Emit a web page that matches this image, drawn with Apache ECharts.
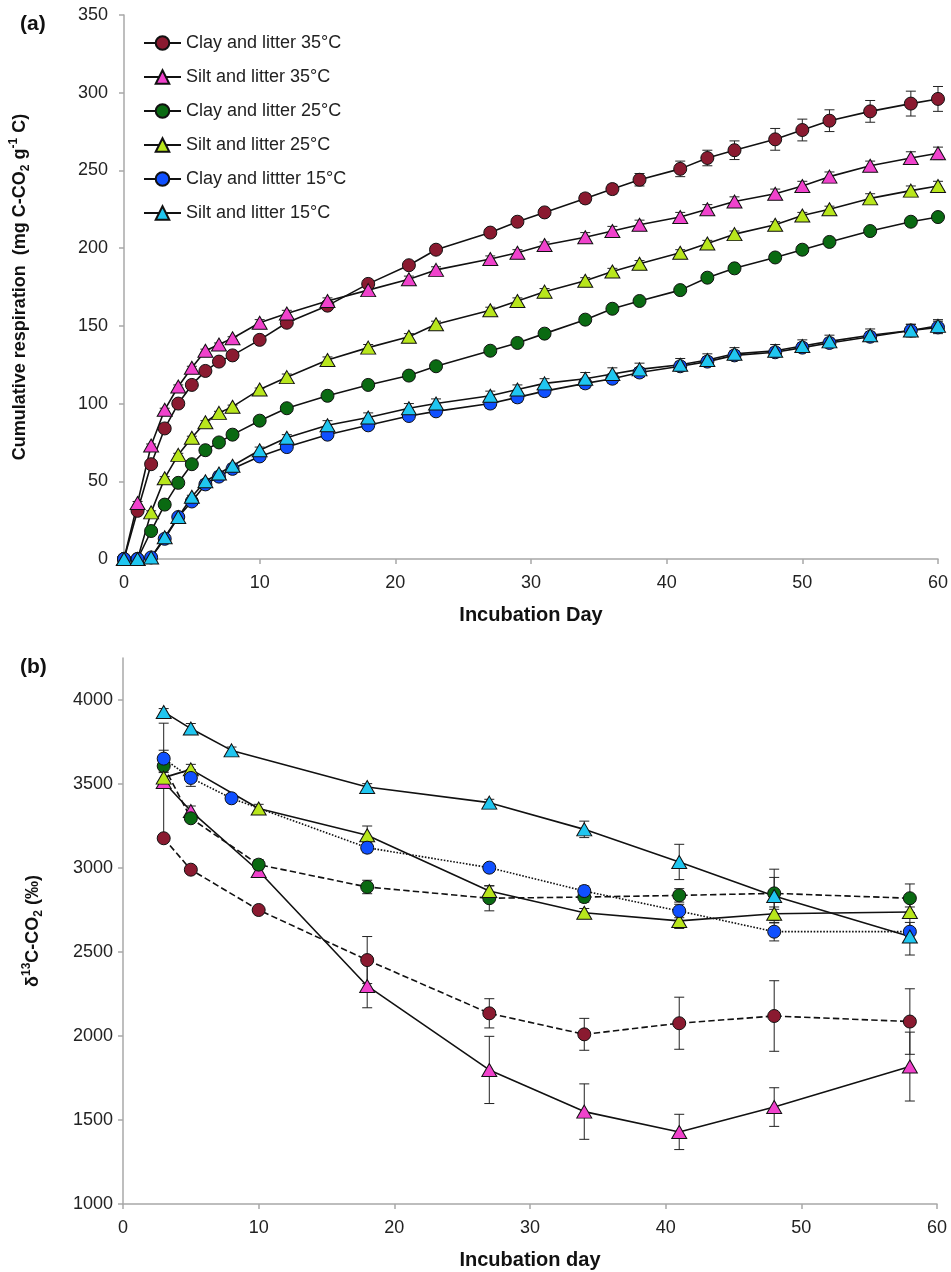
<!DOCTYPE html>
<html><head><meta charset="utf-8">
<script src="https://cdn.jsdelivr.net/npm/echarts/dist/echarts.min.js"></script>
<style>html,body{margin:0;padding:0;background:#fff}#c{width:951px;height:1272px}</style>
</head><body><div id="c"></div>
<script>
// ---------- Panel (a): cumulative respiration ----------
const daysA = [0,1,2,3,4,5,6,7,8,10,12,15,18,21,23,27,29,31,34,36,38,41,43,45,48,50,52,55,58,60];
const clay35A = [0,31,61,84,100,112,121,127,131,141,152,163,177,189,199,210,217,223,232,238,244,251,258,263,270,276,282,288,293,296];
const silt35A = [0,36,73,96,111,123,134,138,142,152,158,166,173,180,186,193,197,202,207,211,215,220,225,230,235,240,246,253,258,261];
const clay25A = [0,0,18,35,49,61,70,75,80,89,97,105,112,118,124,134,139,145,154,161,166,173,181,187,194,199,204,211,217,220];
const silt25A = [0,0,30,52,67,78,88,94,98,109,117,128,136,143,151,160,166,172,179,185,190,197,203,209,215,221,225,232,237,240];
const clay15A = [0,0,1,13,27,37,48,53,58,66,72,80,86,92,95,100,104,108,113,116,120,124,127,131,133,136,139,143,147,149];
const silt15A = [0,0,1,14,27,40,50,55,60,70,78,86,91,97,100,105,109,113,116,119,122,125,128,132,134,137,140,144,147,150];
const clay35AErr = [0,1,1,1,1,1,1,1,1,2,2,2,2,2,2,2,2,2,3,3,4,5,5,6,7,7,7,7,8,8];
const silt35AErr = [0,1,1,1,1,1,1,1,1,2,2,2,2,2,2,2,2,2,3,3,3,3,3,3,3,3,3,3,4,4];
const clay25AErr = [0,0,1,1,1,1,1,1,1,1,1,1,1,1,1,1,1,1,1,1,1,1,1,1,2,2,2,2,2,2];
const silt25AErr = [0,0,1,1,1,1,1,1,1,1,2,2,2,2,2,2,2,2,2,2,2,2,2,2,2,2,2,3,3,3];
const clay15AErr = [0,0,1,1,1,1,1,1,1,2,2,2,2,2,2,3,3,3,3,3,3,3,3,3,3,3,3,3,4,4];
const silt15AErr = [0,0,1,1,1,1,1,1,1,2,2,3,3,3,3,3,3,3,4,4,4,4,4,4,4,4,4,4,4,4];
const yTicksA = [0,50,100,150,200,250,300,350];

// ---------- Panel (b): delta13C-CO2 ----------
const daysB = [3,5,10,18,27,34,41,48,58];
const daysB15 = [3,5,8,18,27,34,41,48,58];
const clay35B = [3177,2990,2750,2452,2135,2010,2076,2119,2086];
const silt35B = [3512,3339,2982,2298,1798,1550,1429,1577,1818];
const clay25B = [3607,3296,3020,2887,2820,2827,2837,2849,2820];
const silt25B = [3538,3587,3354,3195,2863,2734,2685,2728,2738];
const clay15B = [3651,3536,3415,3121,3002,2863,2744,2621,2621];
const silt15B = [3929,3830,3700,3482,3389,3230,3036,2833,2592];
const clay35BErr = [20,20,20,140,87,95,155,210,195];
const silt35BErr = [350,30,20,130,200,165,105,115,205];
const clay25BErr = [30,20,30,40,75,30,40,95,85];
const silt25BErr = [30,30,25,55,30,25,45,40,30];
const clay15BErr = [50,50,25,30,25,30,40,55,55];
const silt15BErr = [20,30,20,20,20,49,105,160,110];
const yTicksB = [1000,1500,2000,2500,3000,3500,4000];

const names = ['Clay and litter 35°C','Silt and litter 35°C','Clay and litter 25°C','Silt and litter 25°C','Clay and littter 15°C','Silt and litter 15°C'];
const colors = ['#8a1a30','#f042cc','#0a6a12','#b8e61c','#1050ff','#20c6f0'];
const symbols = ['circle','triangle','circle','triangle','circle','triangle'];
const lineTypesB = ['dashed','solid','dashed','solid','dotted','solid'];

const FONT = "'Liberation Sans', Arial, sans-serif";

function errSeries(gi, days, vals, errs) {
  return {
    type: 'custom', xAxisIndex: gi, yAxisIndex: gi, z: 1, silent: true,
    data: days.map((d, i) => [d, vals[i], errs[i]]),
    encode: {x: 0, y: 1},
    renderItem: function (params, api) {
      const x = api.value(0), y = api.value(1), e = api.value(2);
      if (!e) return null;
      const t = api.coord([x, y + e]), b = api.coord([x, y - e]);
      const w = 5, st = {stroke: '#222', lineWidth: 1};
      return {type: 'group', children: [
        {type: 'line', shape: {x1: t[0], y1: t[1], x2: b[0], y2: b[1]}, style: st},
        {type: 'line', shape: {x1: t[0] - w, y1: t[1], x2: t[0] + w, y2: t[1]}, style: st},
        {type: 'line', shape: {x1: b[0] - w, y1: b[1], x2: b[0] + w, y2: b[1]}, style: st}
      ]};
    }
  };
}
function lineSeries(gi, k, days, vals, ltype) {
  return {
    type: 'line', name: names[k], xAxisIndex: gi, yAxisIndex: gi, z: 3,
    data: days.map((d, i) => [d, vals[i]]),
    symbol: symbols[k], symbolSize: symbols[k] === 'circle' ? 13 : [15, 13],
    itemStyle: {color: colors[k], borderColor: '#111', borderWidth: 1},
    lineStyle: {color: '#111', width: 1.6, type: ltype},
    emphasis: {disabled: true}
  };
}

const seriesA = [clay35A, silt35A, clay25A, silt25A, clay15A, silt15A];
const errA = [clay35AErr, silt35AErr, clay25AErr, silt25AErr, clay15AErr, silt15AErr];
const seriesB = [clay35B, silt35B, clay25B, silt25B, clay15B, silt15B];
const errB = [clay35BErr, silt35BErr, clay25BErr, silt25BErr, clay15BErr, silt15BErr];
const daysBFor = [daysB, daysB, daysB, daysB, daysB15, daysB15];

const series = [];
for (let k = 0; k < 6; k++) series.push(lineSeries(0, k, daysA, seriesA[k], 'solid'));
for (let k = 0; k < 6; k++) series.push(lineSeries(1, k, daysBFor[k], seriesB[k], lineTypesB[k]));
for (let k = 0; k < 6; k++) series.push(errSeries(0, daysA, seriesA[k], errA[k]));
for (let k = 0; k < 6; k++) series.push(errSeries(1, daysBFor[k], seriesB[k], errB[k]));

const axisLineStyle = {color: '#a8a8a8', width: 1.5};
const labelStyle = {fontSize: 18, color: '#222', fontFamily: FONT, formatter: v => String(v)};
const xNameStyle = {fontSize: 20, fontWeight: 'bold', color: '#111', fontFamily: FONT};
const yNameStyle = {fontSize: 18, fontWeight: 'bold', color: '#111', fontFamily: FONT};
const richName = {
  sub: {fontSize: 12, fontWeight: 'bold', color: '#111', fontFamily: FONT, verticalAlign: 'bottom'},
  sup: {fontSize: 12, fontWeight: 'bold', color: '#111', fontFamily: FONT, verticalAlign: 'top'}
};

function xAxis(gi, name) {
  return {
    type: 'value', gridIndex: gi, min: 0, max: 60, interval: 10,
    axisLine: {lineStyle: axisLineStyle}, axisTick: {length: 5, lineStyle: axisLineStyle},
    splitLine: {show: false}, axisLabel: Object.assign({}, labelStyle, {margin: 15}),
    name: name, nameLocation: 'middle', nameGap: 46, nameTextStyle: xNameStyle
  };
}

const option = {
  animation: false,
  backgroundColor: '#fff',
  grid: [
    {left: 124, top: 15, width: 814, height: 544},
    {left: 123, top: 658, width: 814, height: 546}
  ],
  xAxis: [xAxis(0, 'Incubation Day'), xAxis(1, 'Incubation day')],
  yAxis: [
    {
      type: 'value', gridIndex: 0, min: 0, max: 350, interval: 50,
      axisLine: {show: true, lineStyle: axisLineStyle},
      axisTick: {show: true, length: 5, lineStyle: axisLineStyle, customValues: yTicksA},
      splitLine: {show: false},
      axisLabel: Object.assign({}, labelStyle, {margin: 16, customValues: yTicksA}),
      name: 'Cumulative respiration  (mg C-CO{sub|2} g{sup|-1} C)',
      nameLocation: 'middle', nameGap: 92,
      nameTextStyle: Object.assign({lineHeight: 24, rich: richName}, yNameStyle)
    },
    {
      type: 'value', gridIndex: 1, min: 1000, max: 4250, interval: 500,
      axisLine: {show: true, lineStyle: axisLineStyle},
      axisTick: {show: true, length: 5, lineStyle: axisLineStyle, customValues: yTicksB},
      splitLine: {show: false},
      axisLabel: Object.assign({}, labelStyle, {margin: 10, customValues: yTicksB}),
      name: 'δ{sup|13}C-CO{sub|2} (‰)',
      nameLocation: 'middle', nameGap: 78,
      nameTextStyle: Object.assign({lineHeight: 24, rich: richName}, yNameStyle)
    }
  ],
  legend: {
    orient: 'vertical', left: 138, top: 28, itemWidth: 37, itemHeight: 17, itemGap: 14,
    selectedMode: false, data: names,
    textStyle: {fontSize: 18, color: '#222', fontFamily: FONT, lineHeight: 20}
  },
  graphic: [
    {type: 'text', left: 20, top: 14, style: {text: '(a)', fontSize: 21, fontWeight: 'bold', fill: '#111', fontFamily: FONT}},
    {type: 'text', left: 20, top: 657, style: {text: '(b)', fontSize: 21, fontWeight: 'bold', fill: '#111', fontFamily: FONT}}
  ],
  series: series
};

echarts.init(document.getElementById('c'), null, {renderer: 'canvas'}).setOption(option);
</script>
</body></html>
